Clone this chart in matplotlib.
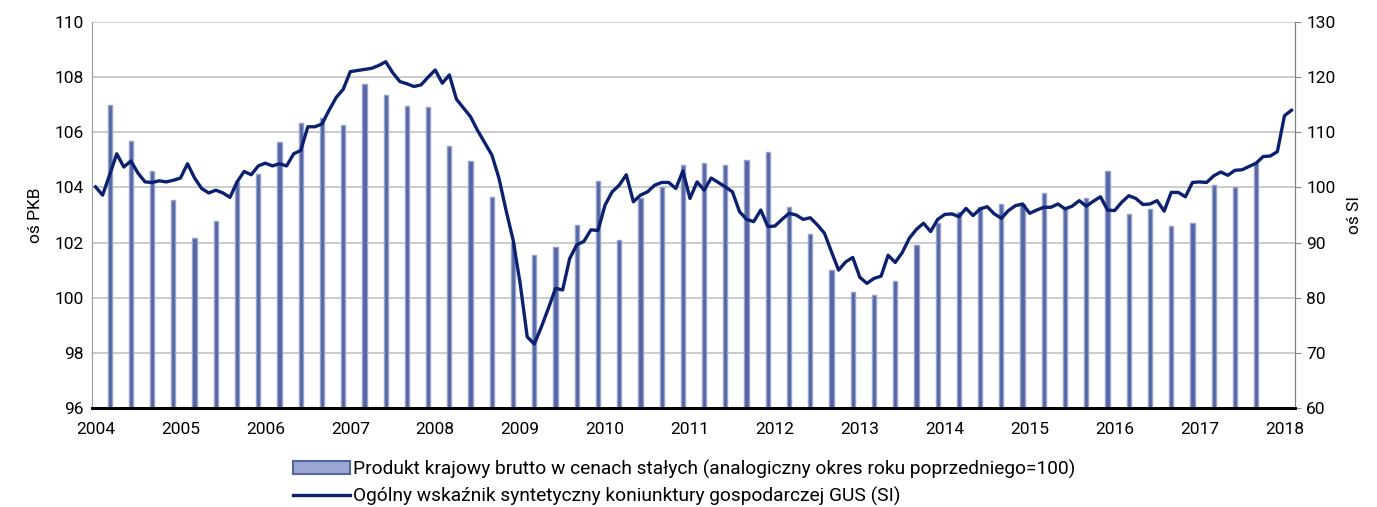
import matplotlib
matplotlib.use("Agg")
import matplotlib.pyplot as plt
import numpy as np
from matplotlib.patches import Patch
from matplotlib.lines import Line2D

plt.rcParams['font.family'] = ['Roboto', 'DejaVu Sans']

# lata na osi X (etykiety co 12 miesiecy, od stycznia 2004)
years = [str(y) for y in range(2004, 2019)]

# PKB, ceny stale, analogiczny okres roku poprzedniego = 100 (kwartalnie, I kw. 2004 - III kw. 2017)
pkb = [107.0, 105.7, 104.6, 103.55,
       102.15, 102.8, 104.2, 104.5,
       105.65, 106.35, 106.5, 106.25,
       107.75, 107.35, 106.95, 106.9,
       105.5, 104.95, 103.65, 102.0,
       101.55, 101.85, 102.65, 104.25,
       102.1, 103.6, 104.0, 104.8,
       104.9, 104.8, 105.0, 105.3,
       103.3, 102.3, 101.0, 100.2,
       100.1, 100.6, 101.9, 102.7,
       103.1, 103.3, 103.4, 103.4,
       103.8, 103.3, 103.6, 104.6,
       103.05, 103.2, 102.6, 102.7,
       104.1, 104.0, 104.9]

# wskaznik SI (miesiecznie, styczen 2004 - luty 2018)
si = [100.1, 98.6, 102.3, 106.1, 103.7, 104.8, 102.6, 101.0, 100.9, 101.2, 101.0, 101.3,
      101.7, 104.3, 101.7, 99.8, 99.0, 99.5, 99.0, 98.2, 101.0, 102.9, 102.3, 103.9,
      104.4, 103.9, 104.3, 103.9, 106.1, 106.7, 111.0, 111.0, 111.5, 114.0, 116.3, 117.8,
      121.0, 121.2, 121.4, 121.6, 122.1, 122.8, 120.8, 119.2, 118.8, 118.3, 118.6, 120.0,
      121.3, 118.9, 120.4, 116.0, 114.4, 112.8, 110.3, 108.1, 105.9, 101.7, 95.9, 90.5,
      82.6, 72.9, 71.6, 74.7, 78.1, 81.7, 81.4, 87.1, 89.6, 90.2, 92.3, 92.2,
      96.8, 99.2, 100.4, 102.3, 97.4, 98.6, 99.2, 100.4, 100.9, 100.9, 99.8, 103.0,
      98.0, 101.0, 99.5, 101.7, 100.9, 100.1, 99.2, 95.6, 94.2, 93.8, 95.9, 92.9,
      93.0, 94.2, 95.3, 95.0, 94.2, 94.5, 93.2, 91.7, 88.3, 85.0, 86.5, 87.3,
      83.7, 82.6, 83.5, 83.9, 87.7, 86.4, 88.2, 90.8, 92.4, 93.5, 92.0, 94.2,
      95.1, 95.2, 94.7, 96.2, 94.9, 96.1, 96.5, 95.2, 94.4, 95.8, 96.7, 97.0,
      95.3, 95.9, 96.4, 96.4, 97.0, 96.1, 96.6, 97.6, 96.6, 97.5, 98.3, 95.9,
      95.8, 97.3, 98.5, 98.0, 96.9, 97.0, 97.6, 95.7, 99.1, 99.1, 98.3, 100.9,
      101.0, 100.9, 102.1, 102.8, 102.2, 103.1, 103.2, 103.8, 104.4, 105.6, 105.7, 106.5,
      113.0, 114.0]

line_color = '#0b2170'
bar_color = '#5565a3'

fig = plt.figure(figsize=(13.77, 5.07), dpi=100)
ax = fig.add_axes([0.0668, 0.1953, 0.8737, 0.7613])
ax2 = ax.twinx()

# slupki na koncu kwartalu (marzec, czerwiec, ...)
xb = np.arange(len(pkb)) * 3 + 2
ax.bar(xb, np.array(pkb) - 96, bottom=96, width=0.6, color=bar_color,
       edgecolor='#96a1cc', linewidth=1.0, zorder=2)

xm = np.arange(len(si))
ax2.plot(xm, si, color=line_color, lw=2.4, zorder=3)

ax.set_xlim(-0.5, len(si) - 0.5)
ax.set_ylim(96, 110)
ax.set_yticks(np.arange(96, 111, 2))
ax2.set_ylim(60, 130)
ax2.set_yticks(np.arange(60, 131, 10))

ax.set_xticks(np.arange(0, len(si), 12))
ax.set_xticklabels(years)
ax.tick_params(axis='x', length=0, pad=10, labelsize=12.5)
ax.tick_params(axis='y', length=0, pad=6, labelsize=12.5)
ax2.tick_params(axis='y', length=4, color='#888888', pad=4, labelsize=12.5)

ax.grid(axis='y', color='#c4c4c4', lw=1.2, zorder=0)
ax.set_axisbelow(True)

for a in (ax, ax2):
    a.spines['top'].set_visible(False)
    a.spines['left'].set_color('#a0a0a0')
    a.spines['right'].set_color('#808080')
    a.spines['bottom'].set_color('black')
    a.spines['bottom'].set_linewidth(2)

ax.set_ylabel('oś PKB', fontsize=12.5, labelpad=8)
ax2.set_ylabel('oś SI', fontsize=12.5, labelpad=8)

handles = [Patch(facecolor='#9ba6d2', edgecolor=bar_color, linewidth=1.5),
           Line2D([], [], color=line_color, lw=2.4)]
labels = ['Produkt krajowy brutto w cenach stałych (analogiczny okres roku poprzedniego=100)',
          'Ogólny wskaźnik syntetyczny koniunktury gospodarczej GUS (SI)']
leg = fig.legend(handles, labels, loc='lower left', bbox_to_anchor=(0.2, -0.032), ncol=1,
                 frameon=False, fontsize=13.8, handlelength=3.0, handletextpad=0.15,
                 labelspacing=0.42)

fig.savefig('out.png', dpi=100)
